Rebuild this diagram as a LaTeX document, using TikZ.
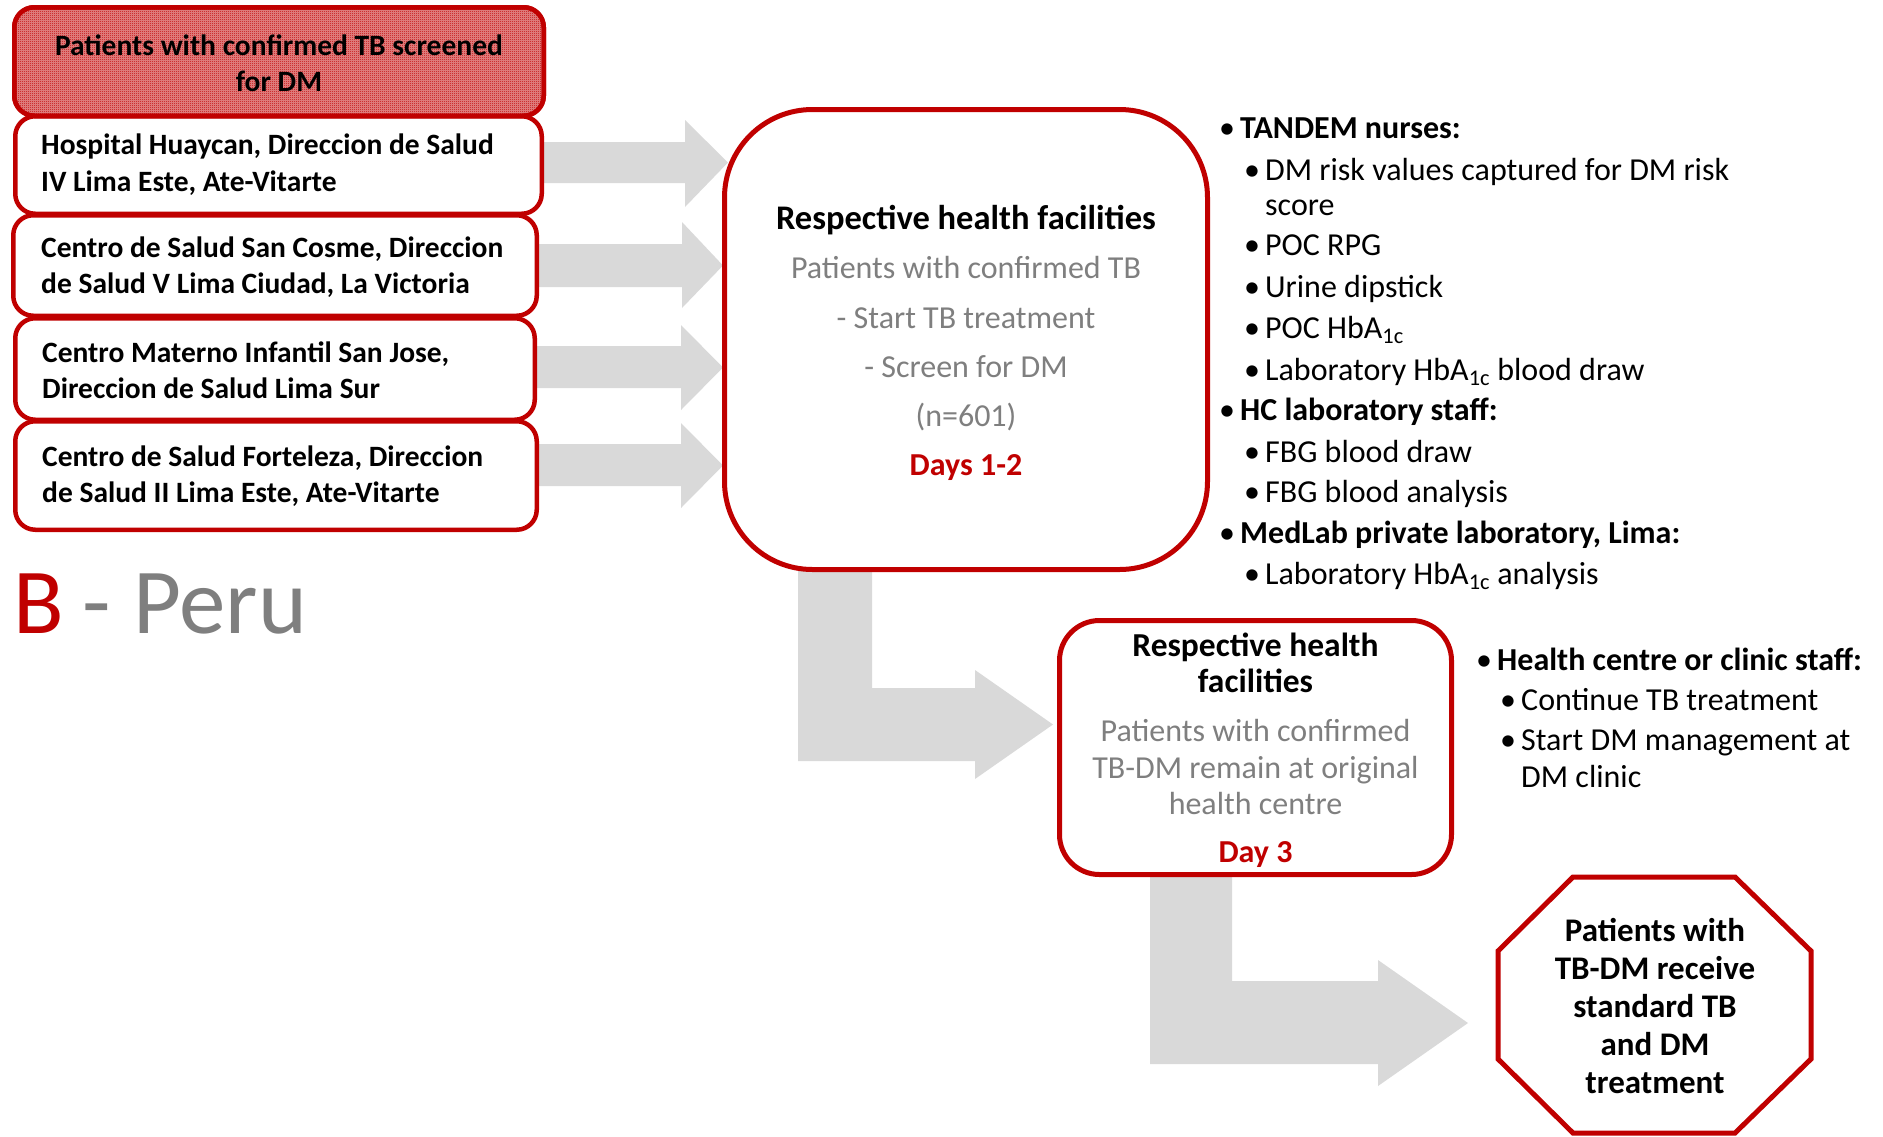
\documentclass[tikz,border=0pt]{standalone}
\usepackage{fontspec}
\setmainfont{Carlito}
\usetikzlibrary{patterns,backgrounds}
\definecolor{tbred}{HTML}{C00000}
\definecolor{arrgray}{HTML}{D9D9D9}
\definecolor{txtgray}{HTML}{7F7F7F}
\newcommand{\fsz}[2]{\fontsize{#1}{#2}\selectfont}
\pgfdeclarepatternformonly{finecheck}{\pgfpointorigin}{\pgfqpoint{2pt}{2pt}}{\pgfqpoint{2pt}{2pt}}{%
  \pgfpathrectangle{\pgfpointorigin}{\pgfqpoint{1pt}{1pt}}%
  \pgfpathrectangle{\pgfqpoint{1pt}{1pt}}{\pgfqpoint{1pt}{1pt}}%
  \pgfusepath{fill}}
\begin{document}
\begin{tikzpicture}[x=1pt,y=-1pt,
  sitebox/.style={draw=tbred, line width=4.5pt, rounded corners=20pt, fill=white, inner sep=0pt},
  sitetext/.style={anchor=west, align=left, inner sep=0pt, font=\fsz{29.5}{36.5}\bfseries},
  bigbox/.style={draw=tbred, line width=5pt, fill=white, inner sep=0pt},
  blockarrow/.style={fill=arrgray, draw=none},
  itemtext/.style={anchor=base west, inner sep=0pt, font=\fsz{32}{38}},
]
\useasboundingbox (0,0) rectangle (1883,1136);

% ---------- left site boxes ----------
\node[sitebox, minimum width=526.5pt, minimum height=97.5pt] (b1) at (278.5,165) {};
\node[sitetext] (b1t) at (41,164.5) {Hospital Huaycan, Direccion de Salud\\IV Lima Este, Ate-Vitarte};
\node[sitebox, minimum width=523.5pt, minimum height=100.5pt] (b2) at (275,265.5) {};
\node[sitetext] (b2t) at (41,267) {Centro de Salud San Cosme, Direccion\\de Salud V Lima Ciudad, La Victoria};
\node[sitebox, minimum width=519.5pt, minimum height=101.5pt] (b3) at (275,369) {};
\node[sitetext] (b3t) at (42,370) {Centro Materno Infantil San Jose,\\Direccion de Salud Lima Sur};
\node[sitebox, minimum width=521.5pt, minimum height=108.5pt] (b4) at (276,475.5) {};
\node[sitetext] (b4t) at (42,476) {Centro de Salud Forteleza, Direccion\\de Salud II Lima Este, Ate-Vitarte};

% top patterned box
\node[draw=tbred, line width=4.5pt, rounded corners=20pt, fill=tbred!45, minimum width=529.5pt, minimum height=108.5pt, inner sep=0pt] (topbg) at (279,61.5) {};
\node[rounded corners=20pt, pattern=finecheck, pattern color=tbred, minimum width=527pt, minimum height=106pt, inner sep=0pt] (toppat) at (279,61.5) {};
\node[draw=tbred, line width=4.5pt, rounded corners=20pt, minimum width=529.5pt, minimum height=108.5pt, inner sep=0pt] (topbox) at (279,61.5) {};
\node[align=center, inner sep=0pt, font=\fsz{29.5}{36.5}\bfseries] (topt) at (279,63) {Patients with confirmed TB screened\\for DM};

% B - Peru
\node[anchor=base west, inner sep=0pt, font=\fsz{93}{100}] (peru) at (13,633) {\textcolor{tbred}{B}\hspace{0.2em}\textcolor{txtgray}{-\hspace{0.24em}Peru}};

% ---------- main box ----------
\node[bigbox, rounded corners=88pt, minimum width=483pt, minimum height=460pt] (m1) at (966,339.5) {};
\node[align=center, inner sep=0pt, font=\fsz{32}{49.2}] (m1t) at (966,343) {%
  {\bfseries\fsz{34.5}{49.2}Respective health facilities}\\
  \textcolor{txtgray}{Patients with confirmed TB}\\
  \textcolor{txtgray}{- Start TB treatment}\\
  \textcolor{txtgray}{- Screen for DM}\\
  \textcolor{txtgray}{(n=601)}\\
  \textcolor{tbred}{\bfseries Days 1-2}};

% right list 1
\node[itemtext] (l1) at (1219,138) {\makebox[21pt][l]{•}\textbf{TANDEM nurses:}};
\node[itemtext] (l2) at (1244,180) {\makebox[21pt][l]{•}DM risk values captured for DM risk};
\node[itemtext] (l2b) at (1265,215) {score};
\node[itemtext] (l3) at (1244,255) {\makebox[21pt][l]{•}POC RPG};
\node[itemtext] (l4) at (1244,297) {\makebox[21pt][l]{•}Urine dipstick};
\node[itemtext] (l5) at (1244,338) {\makebox[21pt][l]{•}POC HbA\textsubscript{1c}};
\node[itemtext] (l6) at (1244,380) {\makebox[21pt][l]{•}Laboratory HbA\textsubscript{1c} blood draw};
\node[itemtext] (l7) at (1219,420) {\makebox[21pt][l]{•}\textbf{HC laboratory staff:}};
\node[itemtext] (l8) at (1244,462) {\makebox[21pt][l]{•}FBG blood draw};
\node[itemtext] (l9) at (1244,502) {\makebox[21pt][l]{•}FBG blood analysis};
\node[itemtext] (l10) at (1219,543) {\makebox[21pt][l]{•}\textbf{MedLab private laboratory, Lima:}};
\node[itemtext] (l11) at (1244,584) {\makebox[21pt][l]{•}Laboratory HbA\textsubscript{1c} analysis};

% ---------- second box ----------
\node[bigbox, rounded corners=40pt, minimum width=392pt, minimum height=254pt] (m2) at (1255.5,747.5) {};
\node[align=center, inner sep=0pt, font=\fsz{32}{36.5}] (m2t) at (1255.5,750) {%
  {\bfseries\fsz{33.5}{36.5}Respective health}\\
  {\bfseries\fsz{33.5}{37.5}facilities}\\[12.5pt]
  \textcolor{txtgray}{Patients with confirmed}\\
  \textcolor{txtgray}{TB-DM remain at original}\\
  \textcolor{txtgray}{health centre}\\[11pt]
  \textcolor{tbred}{\bfseries Day 3}};

% right list 2
\node[itemtext] (h1) at (1476,670) {\makebox[21pt][l]{•}\textbf{Health centre or clinic staff:}};
\node[itemtext] (h2) at (1500,710) {\makebox[21pt][l]{•}Continue TB treatment};
\node[itemtext] (h3) at (1500,750) {\makebox[21pt][l]{•}Start DM management at};
\node[itemtext] (h3b) at (1521,787) {DM clinic};

% ---------- octagon ----------
\draw[tbred, line width=5pt, fill=white, line join=miter]
  (1573,877) -- (1735,877) -- (1811,951) -- (1811,1059) -- (1735,1133)
  -- (1573,1133) -- (1498,1059) -- (1498,951) -- cycle;
\node[align=center, inner sep=0pt, font=\fsz{33}{37.8}\bfseries] (oct) at (1655,1006) {Patients with\\TB-DM receive\\standard TB\\and DM\\treatment};

% ---------- block arrows (behind) ----------
\begin{scope}[on background layer]
\fill[blockarrow] (540,142) -- (685,142) -- (685,120) -- (728,162.5) -- (685,207) -- (685,183) -- (540,183) -- cycle;
\fill[blockarrow] (535,244) -- (682,244) -- (682,222) -- (723,265.5) -- (682,308) -- (682,287) -- (535,287) -- cycle;
\fill[blockarrow] (535,346) -- (681,346) -- (681,325) -- (723,367.5) -- (681,410) -- (681,388) -- (535,388) -- cycle;
\fill[blockarrow] (535,444) -- (681,444) -- (681,423) -- (723,465.5) -- (681,508) -- (681,486) -- (535,486) -- cycle;
\fill[blockarrow] (798,560) -- (872,560) -- (872,688) -- (975,688) -- (975,670) -- (1053,724.5) -- (975,779) -- (975,761) -- (798,761) -- cycle;
\fill[blockarrow] (1150,870) -- (1232,870) -- (1232,981) -- (1378,981) -- (1378,960) -- (1468,1023) -- (1378,1086) -- (1378,1064) -- (1150,1064) -- cycle;
\end{scope}
\end{tikzpicture}
\end{document}
